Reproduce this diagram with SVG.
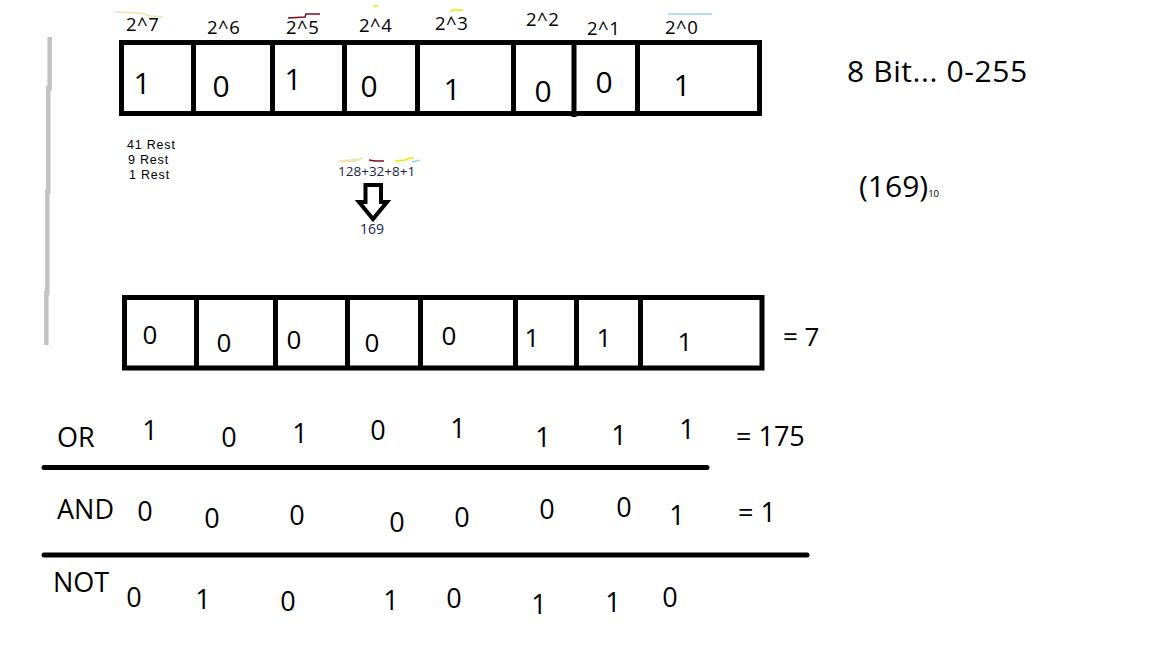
<svg xmlns="http://www.w3.org/2000/svg" width="1152" height="648" viewBox="0 0 1152 648">
<style>
text{font-family:"Open Sans","Noto Sans","Liberation Sans",sans-serif;fill:#000}
.box{fill:none;stroke:#000;stroke-width:5}
.div{stroke:#000;stroke-width:5}
.pw{font-size:18.5px;letter-spacing:0.5px}
.dt{font-size:30px;text-anchor:middle}
.db{font-size:26px;text-anchor:middle}
.dr{font-size:27px;text-anchor:middle}
.lb{font-size:27px}
.sm{font-family:"Liberation Sans","Open Sans",sans-serif;font-size:12.5px;letter-spacing:0.8px}
.navy{fill:#16244e}
.rule{stroke:#000;stroke-width:5;stroke-linecap:round}
.mark{fill:none;stroke-width:1.5}
</style>
<rect width="1152" height="648" fill="#fff"/>

<g id="margin-line">
<path d="M49.7 37 L49.7 88 L48.3 88 L48.3 192 L47.3 192 L47.3 293 L46.3 293 L46.3 345" fill="none" stroke="#c3c3c3" stroke-width="4.5"/>
</g>

<g id="powers">
<path class="mark" stroke="#efe4b0" d="M115 12 L140 13 L150 16 L163 17"/>
<text class="pw" x="126" y="31">2^7</text>
<text class="pw" x="207" y="34">2^6</text>
<path class="mark" stroke="#7a0d1a" d="M288 18 L305 17 L306 14 L320 14"/>
<text class="pw" x="286" y="34">2^5</text>
<path class="mark" stroke="#f5e400" d="M373 6 L378 6"/>
<text class="pw" x="359" y="32">2^4</text>
<path class="mark" stroke="#f5e400" d="M451 12 L452 10 L463 10"/>
<text class="pw" x="435" y="30">2^3</text>
<text class="pw" x="526" y="26">2^2</text>
<text class="pw" x="587" y="35">2^1</text>
<path class="mark" stroke="#99d9ea" d="M668 14 L712 14"/>
<text class="pw" x="665" y="34">2^0</text>
</g>

<g id="top-register">
<rect class="box" x="121.5" y="42.5" width="638" height="71"/>
<line class="div" x1="193.5" y1="42.5" x2="193.5" y2="113.5"/>
<line class="div" x1="272.5" y1="42.5" x2="272.5" y2="113.5"/>
<line class="div" x1="344.5" y1="42.5" x2="344.5" y2="113.5"/>
<line class="div" x1="417.5" y1="42.5" x2="417.5" y2="113.5"/>
<line class="div" x1="513.5" y1="42.5" x2="513.5" y2="113.5"/>
<line class="div" x1="574" y1="42.5" x2="574" y2="117"/>
<line class="div" x1="637.5" y1="42.5" x2="637.5" y2="113.5"/>
<text class="dt" x="142" y="94">1</text>
<text class="dt" x="221" y="97">0</text>
<text class="dt" x="293" y="90">1</text>
<text class="dt" x="369" y="97">0</text>
<text class="dt" x="452" y="100">1</text>
<text class="dt" x="543" y="102">0</text>
<text class="dt" x="604" y="93">0</text>
<text class="dt" x="682" y="96">1</text>
</g>

<g id="range-label">
<text x="847" y="82" font-size="30" letter-spacing="0.6">8 Bit... 0-255</text>
</g>

<g id="decimal-label">
<text x="859" y="197" font-size="30">(169)<tspan font-size="9.5">10</tspan></text>
</g>

<g id="rests">
<text class="sm" x="127" y="148.5">41 Rest</text>
<text class="sm" x="128" y="163.5">9 Rest</text>
<text class="sm" x="129" y="178.5">1 Rest</text>
</g>

<g id="sum">
<path class="mark" stroke="#efe4b0" d="M338 161 L362 159 M341 162 L356 161 L363 158"/>
<path class="mark" stroke="#7a0d1a" d="M369 160 L375 161 L384 161"/>
<path class="mark" stroke="#f5e400" d="M395 161 L405 160 L410 158 L414 158"/>
<path class="mark" stroke="#99d9ea" d="M412 162 L420 160"/>
<text class="navy" x="338" y="176" font-size="13.5">128+32+8+1</text>
</g>

<g id="result">
<text class="navy" x="360" y="234" font-size="14">169</text>
</g>

<g id="connectors">
<polygon points="365.5,185 381,185 381,202 387,202 373,219 359,202 365.5,202" fill="#fff" stroke="#000" stroke-width="4" stroke-linejoin="miter"/>
</g>

<g id="bottom-register">
<rect class="box" x="124.5" y="297.5" width="637.5" height="70.5"/>
<line class="div" x1="196.5" y1="297.5" x2="196.5" y2="368"/>
<line class="div" x1="275.5" y1="297.5" x2="275.5" y2="368"/>
<line class="div" x1="347.5" y1="297.5" x2="347.5" y2="368"/>
<line class="div" x1="420.5" y1="297.5" x2="420.5" y2="368"/>
<line class="div" x1="515.5" y1="297.5" x2="515.5" y2="368"/>
<line class="div" x1="576.5" y1="297.5" x2="576.5" y2="368"/>
<line class="div" x1="640.5" y1="297.5" x2="640.5" y2="368"/>
<text class="db" x="150" y="344">0</text>
<text class="db" x="224" y="352">0</text>
<text class="db" x="294" y="349">0</text>
<text class="db" x="372" y="352">0</text>
<text class="db" x="449" y="345">0</text>
<text class="db" x="532" y="347">1</text>
<text class="db" x="604" y="347">1</text>
<text class="db" x="685" y="351">1</text>
<text x="783" y="346" font-size="26">= 7</text>
</g>

<g id="or-row">
<text class="lb" x="57" y="447">OR</text>
<text class="dr" x="150" y="440">1</text>
<text class="dr" x="229" y="447">0</text>
<text class="dr" x="300" y="443">1</text>
<text class="dr" x="378" y="440">0</text>
<text class="dr" x="458" y="438">1</text>
<text class="dr" x="543" y="447">1</text>
<text class="dr" x="619" y="445">1</text>
<text class="dr" x="687" y="439">1</text>
<text class="lb" x="736" y="446">= 175</text>
<line class="rule" x1="44" y1="467.5" x2="707" y2="467.5"/>
</g>

<g id="and-row">
<text class="lb" x="57" y="519">AND</text>
<text class="dr" x="145" y="521">0</text>
<text class="dr" x="212" y="528">0</text>
<text class="dr" x="297" y="525">0</text>
<text class="dr" x="397" y="532">0</text>
<text class="dr" x="462" y="527">0</text>
<text class="dr" x="547" y="519">0</text>
<text class="dr" x="624" y="517">0</text>
<text class="dr" x="677" y="525">1</text>
<text class="lb" x="738" y="522">= 1</text>
<line class="rule" x1="44" y1="555" x2="807" y2="555"/>
</g>

<g id="not-row">
<text class="lb" x="53" y="592">NOT</text>
<text class="dr" x="134" y="607">0</text>
<text class="dr" x="203" y="609">1</text>
<text class="dr" x="288" y="611">0</text>
<text class="dr" x="391" y="610">1</text>
<text class="dr" x="454" y="608">0</text>
<text class="dr" x="539" y="614">1</text>
<text class="dr" x="613" y="612">1</text>
<text class="dr" x="670" y="607">0</text>
</g>
</svg>
